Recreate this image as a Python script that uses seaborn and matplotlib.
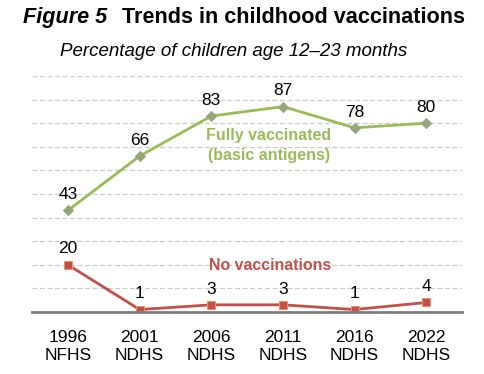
import matplotlib
matplotlib.use('Agg')
import matplotlib.pyplot as plt
import seaborn as sns
import pandas as pd

# Données
surveys = ['1996\nNFHS', '2001\nNDHS', '2006\nNDHS', '2011\nNDHS', '2016\nNDHS', '2022\nNDHS']
fully_vaccinated = [43, 66, 83, 87, 78, 80]
no_vaccinations = [20, 1, 3, 3, 1, 4]

df = pd.DataFrame({'survey': surveys, 'full': fully_vaccinated, 'none': no_vaccinations})

sns.set_style('white')
plt.rcParams['font.family'] = ['Liberation Sans', 'DejaVu Sans']
plt.rcParams['text.color'] = 'black'
plt.rcParams['xtick.color'] = 'black'

fig = plt.figure(figsize=(4.85, 3.74), dpi=100)
ax = fig.add_axes([0.066, 0.166, 0.887, 0.631])

green = '#9BBB59'
red = '#C0504D'

sns.lineplot(data=df, x='survey', y='full', ax=ax, color=green, linewidth=2, sort=False,
             marker='D', markersize=5, markerfacecolor='#98A67A', markeredgecolor='#98A67A')
sns.lineplot(data=df, x='survey', y='none', ax=ax, color=red, linewidth=2, sort=False,
             marker='s', markersize=6, markerfacecolor=red, markeredgecolor='#F0925A')

ax.set_xlim(-0.5, 5.5)
ax.set_ylim(0, 100)
ax.set_yticks(range(10, 101, 10))
ax.set_yticklabels([])
ax.tick_params(axis='y', length=0)
ax.tick_params(axis='x', length=0, labelsize=12.5, pad=13, labelcolor='black')
for lab in ax.get_xticklabels():
    lab.set_linespacing(1.25)
ax.grid(axis='y', color='#CCCCCC', linestyle=(0, (4, 2)), linewidth=0.9)
ax.set_axisbelow(True)
ax.set_xlabel('')
ax.set_ylabel('')
for s in ['left', 'right', 'top']:
    ax.spines[s].set_visible(False)
ax.spines['bottom'].set_color('#808080')
ax.spines['bottom'].set_linewidth(2)

# Étiquettes des valeurs
for i, v in enumerate(fully_vaccinated):
    ax.annotate(str(v), (i, v), xytext=(0, 6), textcoords='offset points',
                ha='center', va='bottom', fontsize=12.5, color='black')
for i, v in enumerate(no_vaccinations):
    ax.annotate(str(v), (i, v), xytext=(0, 6), textcoords='offset points',
                ha='center', va='bottom', fontsize=12.5, color='black')

ax.text(2.8, 70.5, 'Fully vaccinated\n(basic antigens)', ha='center', va='center',
        fontsize=11.5, fontweight='bold', color=green, linespacing=1.35)
ax.text(2.82, 19.5, 'No vaccinations', ha='center', va='center',
        fontsize=11.4, fontweight='bold', color=red)

# Titres
t1 = fig.text(23 / 485, 0.952, 'Figure 5', ha='left', va='center', fontsize=15.6,
              fontweight='bold', fontstyle='italic')
fig.canvas.draw()
x_end = t1.get_window_extent().x1
fig.text((x_end + 15) / 485, 0.952, 'Trends in childhood vaccinations', ha='left',
         va='center', fontsize=15.6, fontweight='bold')
fig.text(0.482, 0.861, 'Percentage of children age 12–23 months', ha='center', va='center',
         fontsize=13.5, fontstyle='italic')

plt.savefig('out.png', dpi=100)
